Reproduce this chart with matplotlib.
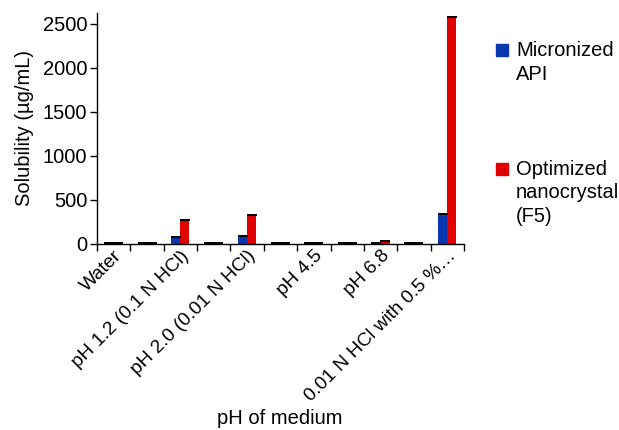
import numpy as np
import matplotlib
matplotlib.use("Agg")
import matplotlib.pyplot as plt
import matplotlib.transforms as mtransforms
from matplotlib.patches import Rectangle

plt.rcParams['font.family'] = ['Liberation Sans', 'DejaVu Sans']

# categories (every second slot is unlabeled in the original chart)
media = ['Water', '', 'pH 1.2 (0.1 N HCl)', '', 'pH 2.0 (0.01 N HCl)', '',
         'pH 4.5', '', 'pH 6.8', '', '0.01 N HCl with 0.5 %\u2026']
micronized = [10, 10, 75, 3, 80, 3, 10, 10, 5, 3, 330]
nanocrystal = [5, 5, 265, 3, 320, 3, 5, 5, 25, 3, 2575]
err_mic = [1, 1, 4, 1, 3, 1, 1, 1, 1, 1, 4]
err_nano = [1, 1, 4, 1, 3, 1, 1, 1, 2, 1, 4]

blue = '#0a36b0'
red = '#e00000'
fs = 14.5

fig = plt.figure(figsize=(6.19, 4.30), dpi=100)
ax = fig.add_axes([0.1567, 0.4337, 0.5929, 0.5361])

x = np.arange(len(media))
w = 0.27
ax.bar(x - w / 2, micronized, w, color=blue, zorder=2)
ax.bar(x + w / 2, nanocrystal, w, color=red, zorder=2)
ax.errorbar(x - w / 2, micronized, yerr=[np.zeros(len(x)), err_mic], fmt='none',
            ecolor='black', elinewidth=0.8, capsize=3.3, capthick=1.2, zorder=3)
ax.errorbar(x + w / 2, nanocrystal, yerr=[np.zeros(len(x)), err_nano], fmt='none',
            ecolor='black', elinewidth=0.8, capsize=3.3, capthick=1.2, zorder=3)

ax.set_xlim(-0.5, len(media) - 0.5)
ax.set_ylim(0, 2620)
ax.set_yticks([0, 500, 1000, 1500, 2000, 2500])

ax.set_xticks(x)
ax.set_xticklabels(media, rotation=45, ha='right', va='center', rotation_mode='anchor')
ax.set_xticks(np.arange(-0.5, len(media)), minor=True)
ax.tick_params(axis='x', which='major', length=0, pad=7, labelsize=13.8)
ax.tick_params(axis='x', which='minor', length=5, width=1, direction='out')
ax.tick_params(axis='y', length=5, width=1, direction='out', labelsize=fs, pad=2)
shift = mtransforms.ScaledTranslation(6 / 100, 0, fig.dpi_scale_trans)
for lbl in ax.get_xticklabels():
    lbl.set_transform(lbl.get_transform() + shift)

for side in ['top', 'right']:
    ax.spines[side].set_visible(False)
for side in ['left', 'bottom']:
    ax.spines[side].set_linewidth(1)

ax.set_ylabel('Solubility (\u00b5g/mL)', fontsize=fs, labelpad=6)
fig.text(0.452, 0.004, 'pH of medium', ha='center', va='bottom', fontsize=fs)

# legend drawn by hand so the swatch lines up with the first text line
legend_items = [(blue, 'Micronized\nAPI', 0.897), (red, 'Optimized\nnanocrystal\n(F5)', 0.621)]
for col, lab, ytop in legend_items:
    fig.patches.append(Rectangle((496.5 / 619, ytop - 12 / 430), 11.5 / 619, 12 / 430,
                                 transform=fig.transFigure, color=col, figure=fig))
    fig.text(516 / 619, ytop + 3 / 430, lab, ha='left', va='top', fontsize=fs,
             linespacing=1.3)

fig.savefig('out.png', dpi=100)
